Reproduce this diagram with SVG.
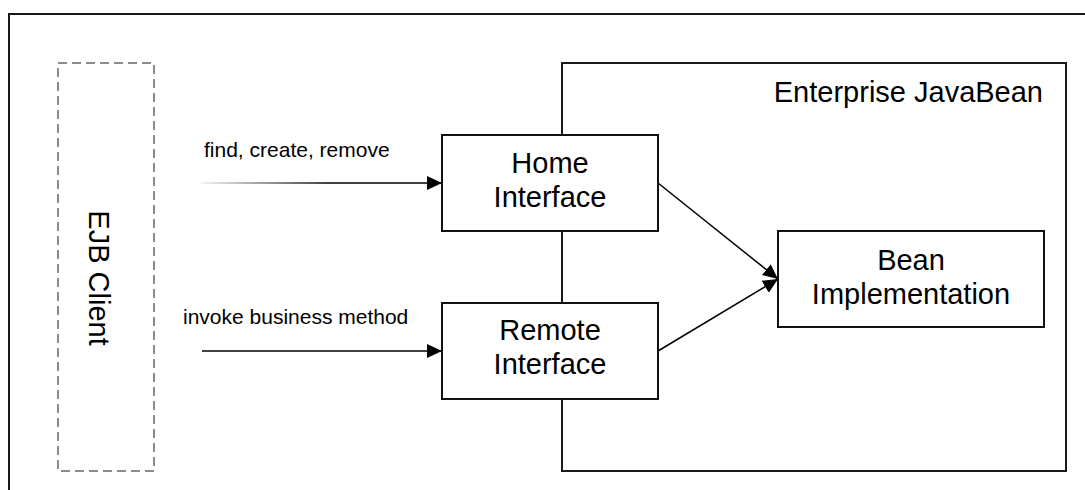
<svg xmlns="http://www.w3.org/2000/svg" width="1085" height="490" viewBox="0 0 1085 490">
  <style>
    .box { fill: #ffffff; stroke: #111111; stroke-width: 2; }
    .frame { fill: none; stroke: #1a1a1a; stroke-width: 2; }
    .client { fill: none; stroke: #8c8c8c; stroke-width: 2; stroke-dasharray: 9 5; }
    .label { font-family: "Liberation Sans", Arial, sans-serif; font-size: 29px; fill: #000000; }
    .small { font-family: "Liberation Sans", Arial, sans-serif; font-size: 21px; fill: #000000; }
    .edge { fill: none; stroke: #000000; stroke-width: 1.5; }
  </style>
  <defs>
    <marker id="arrow" viewBox="0 0 15 15" refX="15" refY="7.5" markerWidth="15" markerHeight="15" markerUnits="userSpaceOnUse" orient="auto">
      <path d="M0,0.5 L15,7.5 L0,14.5 Z" fill="#000000"/>
    </marker>
    <linearGradient id="fade" gradientUnits="userSpaceOnUse" x1="200" y1="0" x2="330" y2="0">
      <stop offset="0" stop-color="#000000" stop-opacity="0.05"/>
      <stop offset="1" stop-color="#000000" stop-opacity="1"/>
    </linearGradient>
  </defs>

  <rect width="1085" height="490" fill="#ffffff"/>

  <!-- outer frame -->
  <path class="frame" d="M9,490 V14 H1085"/>

  <!-- container: Enterprise JavaBean -->
  <g id="ejb-container">
    <rect class="frame" x="562" y="63" width="504" height="408"/>
    <text class="label" x="1043" y="102" text-anchor="end">Enterprise JavaBean</text>
  </g>

  <!-- client -->
  <g id="ejb-client">
    <rect class="client" x="58" y="63" width="96" height="408"/>
    <text class="label" transform="translate(89,278) rotate(90)" text-anchor="middle">EJB Client</text>
  </g>

  <!-- connectors -->
  <g id="connectors">
    <line x1="200" y1="183" x2="442" y2="183" stroke="url(#fade)" stroke-width="1.5" marker-end="url(#arrow)"/>
    <line class="edge" x1="202" y1="351" x2="442" y2="351" marker-end="url(#arrow)"/>
    <line class="edge" x1="658" y1="183" x2="778" y2="279" marker-end="url(#arrow)"/>
    <line class="edge" x1="658" y1="351" x2="778" y2="279" marker-end="url(#arrow)"/>
    <text class="small" x="204" y="157">find, create, remove</text>
    <text class="small" x="183" y="324">invoke business method</text>
  </g>

  <!-- interfaces -->
  <g id="home-interface">
    <rect class="box" x="442" y="135" width="216" height="96"/>
    <text class="label" x="550" y="173" text-anchor="middle">Home</text>
    <text class="label" x="550" y="207" text-anchor="middle">Interface</text>
  </g>

  <g id="remote-interface">
    <rect class="box" x="442" y="303" width="216" height="96"/>
    <text class="label" x="550" y="340" text-anchor="middle">Remote</text>
    <text class="label" x="550" y="374" text-anchor="middle">Interface</text>
  </g>

  <!-- bean -->
  <g id="bean-implementation">
    <rect class="box" x="778" y="231" width="266" height="96"/>
    <text class="label" x="911" y="270" text-anchor="middle">Bean</text>
    <text class="label" x="911" y="304" text-anchor="middle">Implementation</text>
  </g>
</svg>
